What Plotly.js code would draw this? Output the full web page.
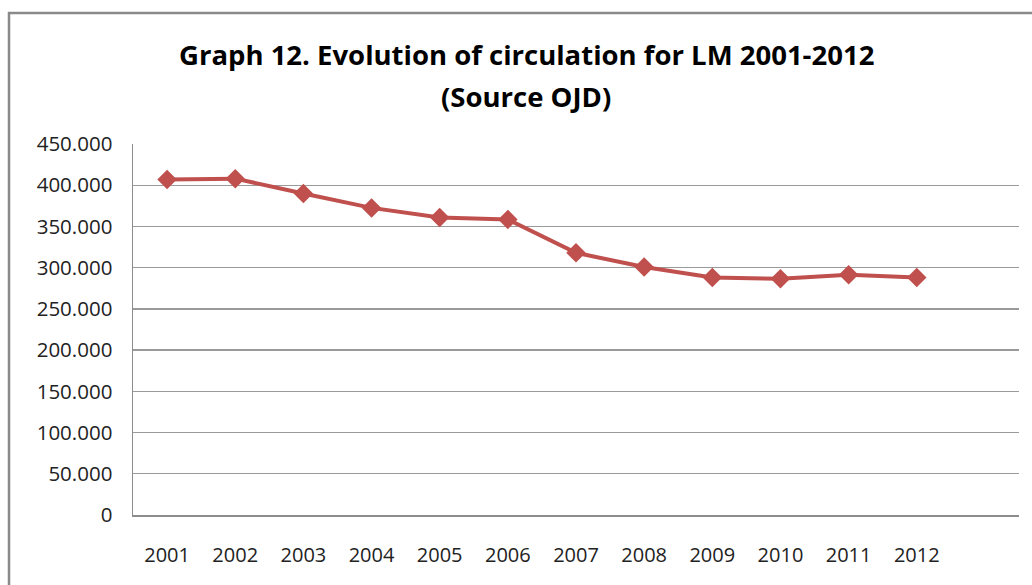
<!DOCTYPE html>
<html>
<head>
<meta charset="utf-8">
<script src="https://cdn.plot.ly/plotly-3.0.1.min.js"></script>
<style>
html,body{margin:0;padding:0;background:#fff;}
#chart{width:1032px;height:585px;}
</style>
</head>
<body>
<div id="chart"></div>
<script>
const years = ["2001","2002","2003","2004","2005","2006","2007","2008","2009","2010","2011","2012"];
const circulation = [407000, 408000, 390000, 372500, 361000, 358500, 318000, 300800, 288000, 286500, 291500, 288000];
const yTicks = [0, 50000, 100000, 150000, 200000, 250000, 300000, 350000, 400000, 450000];
const titleLines = ["Graph 12. Evolution of circulation for LM 2001-2012", "(Source OJD)"];

const xIdx = years.map((_, i) => i);

const trace = {
  x: xIdx,
  y: circulation,
  type: 'scatter',
  mode: 'lines+markers',
  line: {color: '#C0504D', width: 4},
  marker: {symbol: 'diamond', size: 15, color: '#C0504D'},
  hoverinfo: 'skip'
};

const plotL = 133, plotR = 1019, plotT = 144, plotB = 515;
const pw = plotR - plotL, ph = plotB - plotT;
const px = v => (v - plotL) / pw;
const py = v => (plotB - v) / ph;

const layout = {
  width: 1032,
  height: 585,
  paper_bgcolor: '#ffffff',
  plot_bgcolor: '#ffffff',
  separators: ',.',
  margin: {l: plotL, r: 1032 - plotR, t: plotT, b: 585 - plotB},
  showlegend: false,
  font: {family: 'Open Sans, sans-serif', color: '#222'},
  annotations: [
    {text: '<b>' + titleLines[0] + '</b>', xref: 'paper', yref: 'paper',
     x: px(526), y: py(55), xanchor: 'center', yanchor: 'middle', showarrow: false,
     font: {family: 'Open Sans, sans-serif', size: 27.5, color: '#000'}},
    {text: '<b>' + titleLines[1] + '</b>', xref: 'paper', yref: 'paper',
     x: px(526), y: py(97), xanchor: 'center', yanchor: 'middle', showarrow: false,
     font: {family: 'Open Sans, sans-serif', size: 27.5, color: '#000'}}
  ],
  xaxis: {
    range: [-0.5, 12.5],
    tickmode: 'array',
    tickvals: xIdx,
    ticktext: years,
    showgrid: false,
    zeroline: false,
    showline: true,
    linecolor: '#8c8c8c',
    linewidth: 1.5,
    ticks: '',
    ticklabelstandoff: 21,
    tickfont: {size: 20, color: '#222'},
    fixedrange: true
  },
  yaxis: {
    range: [0, 450000],
    tickmode: 'array',
    tickvals: yTicks,
    tickformat: ',d',
    showgrid: true,
    gridcolor: '#9a9a9a',
    gridwidth: 1.3,
    zeroline: false,
    showline: true,
    linecolor: '#8c8c8c',
    linewidth: 1.5,
    ticks: '',
    ticklabelstandoff: 15,
    tickfont: {size: 20.5, color: '#222'},
    fixedrange: true
  },
  shapes: [{
    type: 'rect', xref: 'paper', yref: 'paper',
    x0: px(9), x1: 1.2,
    y0: -0.5, y1: py(13),
    line: {color: '#8a8a8a', width: 2.5},
    fillcolor: 'rgba(0,0,0,0)',
    layer: 'below'
  }]
};

Plotly.newPlot('chart', [trace], layout, {displayModeBar: false, staticPlot: true});
</script>
</body>
</html>
